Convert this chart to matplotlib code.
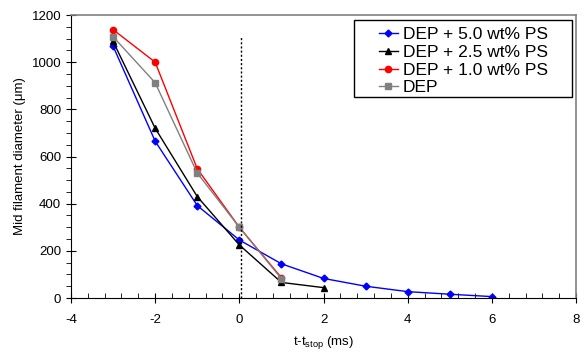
import matplotlib.pyplot as plt
from matplotlib.patches import Rectangle
from matplotlib.ticker import MultipleLocator

plt.rcParams['font.family'] = ['Liberation Sans', 'DejaVu Sans']
plt.rcParams['axes.unicode_minus'] = False

# t - t_stop (ms)
t_5 = [-3, -2, -1, 0, 1, 2, 3, 4, 5, 6]
d_5 = [1068, 665, 392, 246, 145, 83, 50, 27, 16, 6]

t_25 = [-3, -2, -1, 0, 1, 2]
d_25 = [1088, 720, 430, 225, 66, 44]

t_10 = [-3, -2, -1, 0, 1]
d_10 = [1138, 1000, 548, 300, 86]

t_dep = [-3, -2, -1, 0, 1]
d_dep = [1108, 913, 530, 300, 82]

fig = plt.figure(figsize=(5.88, 3.59), dpi=100)
ax = fig.add_axes([0.1207, 0.1699, 0.859, 0.7883])

ax.plot(t_5, d_5, color="blue", marker="D", markersize=3.5, lw=1, label="DEP + 5.0 wt% PS")
ax.plot(t_25, d_25, color="black", marker="^", markersize=5, lw=1, label="DEP + 2.5 wt% PS")
ax.plot(t_10, d_10, color="red", marker="o", markersize=4.5, lw=1, label="DEP + 1.0 wt% PS")
ax.plot(t_dep, d_dep, color="gray", marker="s", markersize=5, lw=1, label="DEP")

ax.plot([0.04, 0.04], [0, 1110], color="black", lw=1, ls=(0, (1.5, 1.5)))

ax.set_xlim(-4, 8)
ax.set_ylim(0, 1200)
ax.xaxis.set_major_locator(MultipleLocator(2))
ax.xaxis.set_minor_locator(MultipleLocator(0.4))
ax.yaxis.set_major_locator(MultipleLocator(200))
ax.yaxis.set_minor_locator(MultipleLocator(50))
ax.tick_params(axis="x", which="major", direction="inout", length=7, labelsize=9.5, pad=8)
ax.tick_params(axis="x", which="minor", direction="in", length=3.5)
ax.tick_params(axis="y", which="major", direction="inout", length=7, labelsize=9.5)
ax.tick_params(axis="y", which="minor", direction="out", length=3.5)

for s in ["top", "right"]:
    ax.spines[s].set_color("gray")
    ax.spines[s].set_linewidth(1.2)

ax.set_xlabel("t-t$_{\\mathregular{stop}}$ (ms)", fontsize=9.5, labelpad=6)
ax.set_ylabel("Mid filament diameter (μm)", fontsize=9.5)

# legend box drawn separately (wide side padding like the original)
fig.patches.append(Rectangle((0.602, 0.7298), 0.3707, 0.2145, transform=fig.transFigure,
                             fill=True, facecolor="white", edgecolor="black", lw=1, zorder=5))
leg = fig.legend(loc="upper left", bbox_to_anchor=(0.644, 0.925), fontsize=12.5, frameon=False,
                 handlelength=1.1, handletextpad=0.3, borderaxespad=0, borderpad=0,
                 labelspacing=0.15)
leg.set_zorder(6)

fig.savefig("out.png", dpi=100)
